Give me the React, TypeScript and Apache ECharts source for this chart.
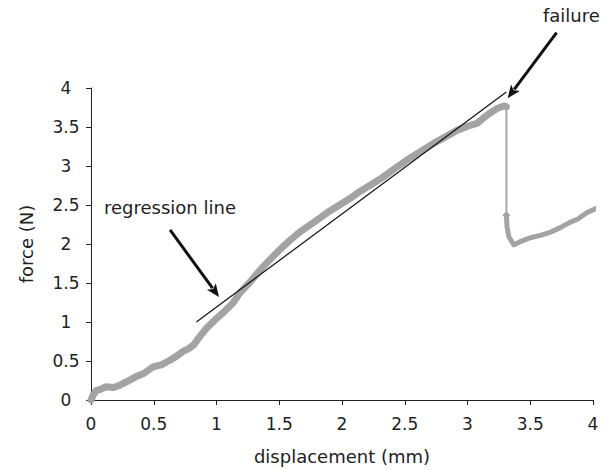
import React, { useEffect, useRef } from "react";
import * as echarts from "echarts";

// Loading curve (displacement mm, force N) up to failure
const loadingCurve: [number, number][] = [
  [0, 0], [0.02, 0.07], [0.04, 0.12], [0.08, 0.14], [0.12, 0.17], [0.18, 0.16],
  [0.23, 0.19], [0.29, 0.24], [0.36, 0.30], [0.42, 0.34], [0.49, 0.42], [0.56, 0.45],
  [0.63, 0.51], [0.68, 0.56], [0.73, 0.62], [0.78, 0.66], [0.82, 0.71], [0.86, 0.80],
  [0.92, 0.92], [0.99, 1.03], [1.06, 1.13], [1.13, 1.24], [1.19, 1.38], [1.26, 1.50],
  [1.35, 1.67], [1.42, 1.79], [1.50, 1.92], [1.58, 2.04], [1.66, 2.15], [1.74, 2.24],
  [1.82, 2.33], [1.90, 2.42], [1.98, 2.50], [2.06, 2.58], [2.14, 2.67], [2.24, 2.77],
  [2.33, 2.86], [2.44, 2.99], [2.54, 3.10], [2.63, 3.19], [2.73, 3.29], [2.82, 3.37],
  [2.92, 3.46], [3.00, 3.51], [3.08, 3.55], [3.13, 3.62], [3.18, 3.68], [3.24, 3.74],
  [3.29, 3.77], [3.31, 3.76],
];

// Sudden drop at failure
const dropCurve: [number, number][] = [
  [3.31, 3.76], [3.31, 2.37],
];

// Post-failure curve
const postCurve: [number, number][] = [
  [3.31, 2.37], [3.315, 2.22], [3.33, 2.09], [3.37, 1.99], [3.42, 2.03], [3.50, 2.08],
  [3.58, 2.11], [3.66, 2.15], [3.74, 2.21], [3.82, 2.28], [3.88, 2.32], [3.95, 2.40],
  [4.03, 2.46],
];

// Regression line endpoints
const regressionLine: [number, number][] = [
  [0.84, 1.0], [3.31, 3.95],
];

// Annotation arrows (start, end) in data units
const regressionArrow: [number, number][] = [[0.63, 2.18], [1.02, 1.32]];
const failureArrow: [number, number][] = [[3.71, 4.71], [3.32, 3.87]];

const xTicks = { min: 0, max: 4, interval: 0.5 };
const yTicks = { min: 0, max: 4, interval: 0.5 };

const FONT = "DejaVu Sans, Liberation Sans, Arial, sans-serif";
const TXT = "#222";
const ARROW = "#111";

export default function App() {
  const ref = useRef<HTMLDivElement>(null);
  useEffect(() => {
    if (!ref.current) return;
    const chart = echarts.init(ref.current, undefined, { renderer: "svg" });
    const axisCommon = {
      axisLine: { show: true, lineStyle: { color: TXT, width: 1 } },
      axisTick: { show: true, inside: false, length: 5, lineStyle: { color: TXT } },
      splitLine: { show: false },
      nameTextStyle: { color: TXT, fontSize: 18, fontFamily: FONT },
    };
    const labelStyle = { color: TXT, fontSize: 17, fontFamily: FONT };
    chart.setOption({
      animation: false,
      backgroundColor: "#fff",
      grid: { left: 91, right: 17, top: 88, bottom: 70, containLabel: false },
      xAxis: {
        type: "value",
        ...xTicks,
        name: "displacement (mm)",
        nameLocation: "middle",
        nameGap: 47,
        ...axisCommon,
        axisLabel: { ...labelStyle, margin: 15 },
      },
      yAxis: {
        type: "value",
        ...yTicks,
        name: "force (N)",
        nameLocation: "middle",
        nameGap: 56,
        ...axisCommon,
        axisLabel: { ...labelStyle, margin: 25, align: "center" },
      },
      series: [
        {
          type: "line",
          data: loadingCurve,
          showSymbol: false,
          clip: false,
          lineStyle: { color: "#a3a3a3", width: 7, join: "round", cap: "round" },
          z: 2,
        },
        {
          type: "line",
          data: dropCurve,
          showSymbol: false,
          clip: false,
          lineStyle: { color: "#a8a8a8", width: 2 },
          z: 2,
        },
        {
          type: "line",
          data: postCurve,
          showSymbol: false,
          clip: false,
          lineStyle: { color: "#a3a3a3", width: 5, join: "round", cap: "round" },
          markPoint: {
            silent: true,
            symbol: "diamond",
            symbolSize: 8,
            itemStyle: { color: "#a3a3a3" },
            label: { show: false },
            data: [{ coord: postCurve[0] }],
          },
          z: 2,
        },
        {
          type: "line",
          data: regressionLine,
          showSymbol: false,
          clip: false,
          lineStyle: { color: "#111", width: 1.2 },
          z: 3,
        },
      ],
    });

    const arrowGraphics = (pts: [number, number][], id: string) => {
      const a = chart.convertToPixel({ gridIndex: 0 }, pts[0]) as number[];
      const b = chart.convertToPixel({ gridIndex: 0 }, pts[1]) as number[];
      const dx = b[0] - a[0];
      const dy = b[1] - a[1];
      const len = Math.sqrt(dx * dx + dy * dy);
      const ux = dx / len;
      const uy = dy / len;
      const headLen = 13;
      const headHalf = 5.5;
      const bx = b[0] - ux * headLen;
      const by = b[1] - uy * headLen;
      return [
        {
          id: id + "-shaft",
          type: "line",
          z: 10,
          shape: { x1: a[0], y1: a[1], x2: bx + ux * 2, y2: by + uy * 2 },
          style: { stroke: ARROW, lineWidth: 3 },
        },
        {
          id: id + "-head",
          type: "polygon",
          z: 10,
          shape: {
            points: [
              [b[0], b[1]],
              [bx - uy * headHalf, by + ux * headHalf],
              [bx + ux * 3, by + uy * 3],
              [bx + uy * headHalf, by - ux * headHalf],
            ],
          },
          style: { fill: ARROW },
        },
      ];
    };

    chart.setOption({
      graphic: [
        {
          id: "t-reg",
          type: "text",
          left: 104,
          top: 198,
          style: { text: "regression line", fontSize: 18, fontFamily: FONT, fill: TXT },
        },
        {
          id: "t-fail",
          type: "text",
          left: 543,
          top: 6,
          style: { text: "failure", fontSize: 18, fontFamily: FONT, fill: TXT },
        },
        ...arrowGraphics(regressionArrow, "a-reg"),
        ...arrowGraphics(failureArrow, "a-fail"),
      ],
    });
    return () => chart.dispose();
  }, []);
  return (
    <div
      ref={ref}
      style={{ position: "absolute", left: 0, top: 0, width: 610, height: 470 }}
    />
  );
}
